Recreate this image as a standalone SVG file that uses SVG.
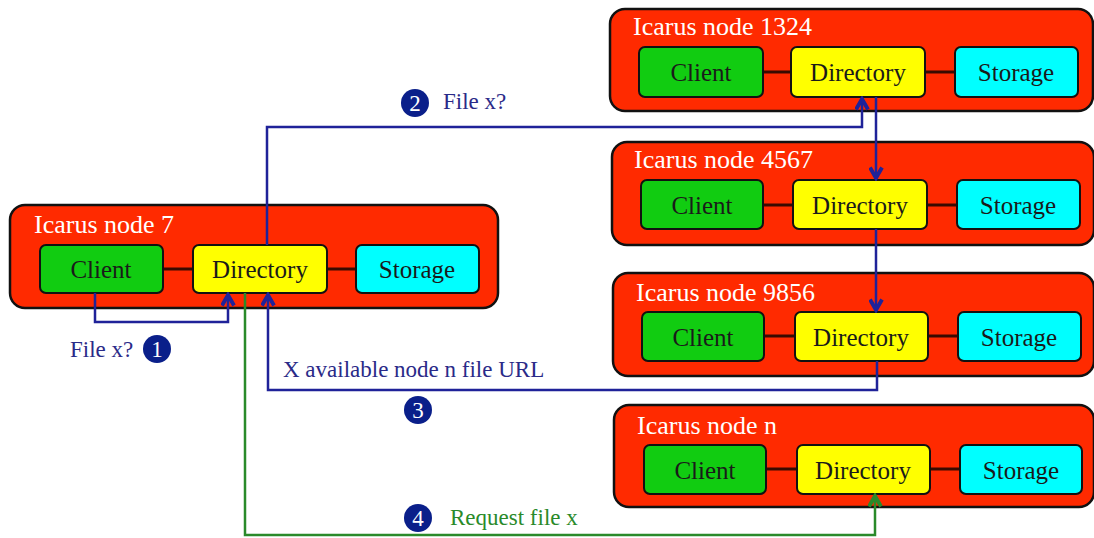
<svg xmlns="http://www.w3.org/2000/svg" width="1094" height="538" viewBox="0 0 1094 538">
  <defs>
    <style>
      .outer { fill: #ff2a00; stroke: #111; stroke-width: 2.5; }
      .client { fill: #11cc11; stroke: #111; stroke-width: 2; }
      .dir { fill: #ffff00; stroke: #111; stroke-width: 2; }
      .stor { fill: #00ffff; stroke: #111; stroke-width: 2; }
      .link { stroke: #3a0a00; stroke-width: 3; }
      .title { font-family: "Liberation Serif", serif; font-size: 26px; fill: #ffffff; }
      .lbl { font-family: "Liberation Serif", serif; font-size: 25px; fill: #1a1a1a; text-anchor: middle; }
      .blue { fill: none; stroke: #1f2299; stroke-width: 2.5; }
      .green { fill: none; stroke: #2a8a2a; stroke-width: 2.5; }
      .btxt { font-family: "Liberation Serif", serif; font-size: 23px; fill: #2a2a88; }
      .gtxt { font-family: "Liberation Serif", serif; font-size: 23px; fill: #2a8a2a; }
      .badge { fill: #0a1f8a; }
      .num { font-family: "Liberation Serif", serif; font-size: 23px; fill: #ffffff; text-anchor: middle; }
    </style>
    <marker id="ab" viewBox="0 0 10 10" refX="8" refY="5" markerWidth="6" markerHeight="6" orient="auto-start-reverse" markerUnits="strokeWidth">
      <path d="M1,1 L8,5 L1,9" fill="none" stroke="#1f2299" stroke-width="2.6"/>
    </marker>
    <marker id="ag" viewBox="0 0 10 10" refX="8" refY="5" markerWidth="6" markerHeight="6" orient="auto-start-reverse" markerUnits="strokeWidth">
      <path d="M1,1 L8,5 L1,9" fill="none" stroke="#2a8a2a" stroke-width="2.6"/>
    </marker>
  </defs>

  <rect width="1094" height="538" fill="#ffffff"/>

  <!-- node 7 -->
  <g id="node7">
    <rect class="outer" x="10" y="205" width="488" height="103" rx="15"/>
    <text class="title" x="34" y="233">Icarus node 7</text>
    <line class="link" x1="163" y1="269" x2="193" y2="269"/>
    <line class="link" x1="327" y1="269" x2="356" y2="269"/>
    <rect class="client" x="40" y="245" width="123" height="48" rx="6"/>
    <rect class="dir" x="193" y="245" width="134" height="48" rx="6"/>
    <rect class="stor" x="356" y="245" width="123" height="48" rx="6"/>
    <text class="lbl" x="101" y="278">Client</text>
    <text class="lbl" x="260" y="278">Directory</text>
    <text class="lbl" x="417" y="278">Storage</text>
  </g>

  <!-- node 1324 -->
  <g id="node1324">
    <rect class="outer" x="610" y="9" width="483" height="102" rx="15"/>
    <text class="title" x="633" y="35">Icarus node 1324</text>
    <line class="link" x1="763" y1="72" x2="791" y2="72"/>
    <line class="link" x1="925" y1="72" x2="955" y2="72"/>
    <rect class="client" x="639" y="47" width="124" height="50" rx="6"/>
    <rect class="dir" x="791" y="47" width="134" height="50" rx="6"/>
    <rect class="stor" x="955" y="47" width="123" height="50" rx="6"/>
    <text class="lbl" x="701" y="81">Client</text>
    <text class="lbl" x="858" y="81">Directory</text>
    <text class="lbl" x="1016" y="81">Storage</text>
  </g>

  <!-- node 4567 -->
  <g id="node4567">
    <rect class="outer" x="612" y="142" width="482" height="103" rx="15"/>
    <text class="title" x="634" y="168">Icarus node 4567</text>
    <line class="link" x1="763" y1="205" x2="793" y2="205"/>
    <line class="link" x1="927" y1="205" x2="957" y2="205"/>
    <rect class="client" x="641" y="180" width="122" height="49" rx="6"/>
    <rect class="dir" x="793" y="180" width="134" height="49" rx="6"/>
    <rect class="stor" x="957" y="180" width="123" height="49" rx="6"/>
    <text class="lbl" x="702" y="214">Client</text>
    <text class="lbl" x="860" y="214">Directory</text>
    <text class="lbl" x="1018" y="214">Storage</text>
  </g>

  <!-- node 9856 -->
  <g id="node9856">
    <rect class="outer" x="613" y="273" width="481" height="103" rx="15"/>
    <text class="title" x="636" y="301">Icarus node 9856</text>
    <line class="link" x1="764" y1="336" x2="795" y2="336"/>
    <line class="link" x1="928" y1="336" x2="958" y2="336"/>
    <rect class="client" x="642" y="312" width="122" height="49" rx="6"/>
    <rect class="dir" x="795" y="312" width="133" height="49" rx="6"/>
    <rect class="stor" x="958" y="312" width="123" height="49" rx="6"/>
    <text class="lbl" x="703" y="346">Client</text>
    <text class="lbl" x="861" y="346">Directory</text>
    <text class="lbl" x="1019" y="346">Storage</text>
  </g>

  <!-- node n -->
  <g id="noden">
    <rect class="outer" x="614" y="405" width="480" height="102" rx="15"/>
    <text class="title" x="637" y="434">Icarus node n</text>
    <line class="link" x1="766" y1="469" x2="797" y2="469"/>
    <line class="link" x1="930" y1="469" x2="960" y2="469"/>
    <rect class="client" x="644" y="445" width="122" height="49" rx="6"/>
    <rect class="dir" x="797" y="445" width="133" height="49" rx="6"/>
    <rect class="stor" x="960" y="445" width="122" height="49" rx="6"/>
    <text class="lbl" x="705" y="479">Client</text>
    <text class="lbl" x="863" y="479">Directory</text>
    <text class="lbl" x="1021" y="479">Storage</text>
  </g>

  <!-- request / reply flow -->
  <g id="connectors">
    <!-- 1: client asks its own directory -->
    <path class="blue" d="M95,293 V322 H228 V295" marker-end="url(#ab)"/>
    <!-- 2: query forwarded to node 1324 -->
    <path class="blue" d="M267,245 V127 H862 V99" marker-end="url(#ab)"/>
    <!-- chain through 4567 and 9856 -->
    <path class="blue" d="M876,97 V178" marker-end="url(#ab)"/>
    <path class="blue" d="M876,229 V310" marker-end="url(#ab)"/>
    <!-- 3: answer back to node 7 -->
    <path class="blue" d="M877,361 V390 H268 V295" marker-end="url(#ab)"/>
    <!-- 4: fetch from node n -->
    <path class="green" d="M245,293 V535 H875 V496" marker-end="url(#ag)"/>
  </g>

  <g id="labels">
    <text class="btxt" x="70" y="357">File x?</text>
    <circle class="badge" cx="157" cy="349" r="14"/>
    <text class="num" x="157" y="357">1</text>

    <circle class="badge" cx="415" cy="103" r="14"/>
    <text class="num" x="415" y="111">2</text>
    <text class="btxt" x="443" y="109">File x?</text>

    <text class="btxt" x="283" y="377">X available node n file URL</text>
    <circle class="badge" cx="418" cy="410" r="14"/>
    <text class="num" x="418" y="418">3</text>

    <circle class="badge" cx="418" cy="518" r="14"/>
    <text class="num" x="418" y="526">4</text>
    <text class="gtxt" x="450" y="525">Request file x</text>
  </g>
</svg>
